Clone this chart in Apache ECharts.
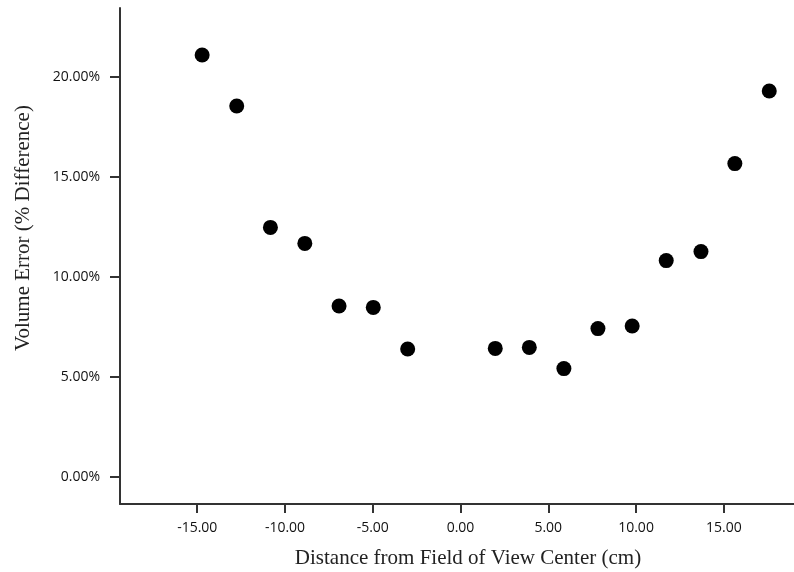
<!DOCTYPE html>
<html>
<head>
<meta charset="utf-8">
<script src="https://cdn.jsdelivr.net/npm/echarts@6/dist/echarts.min.js"></script>
<style>html,body{margin:0;padding:0;background:#fff;overflow:hidden}#c{width:794px;height:572px}</style>
</head>
<body>
<div id="c"></div>
<script>
var distance = [-14.72, -12.75, -10.83, -8.87, -6.92, -4.97, -3.01, 1.98, 3.92, 5.89, 7.83, 9.78, 11.72, 13.70, 15.63, 17.59];
var volumeError = [21.10, 18.55, 12.48, 11.68, 8.55, 8.48, 6.40, 6.43, 6.48, 5.42, 7.42, 7.55, 10.82, 11.27, 15.67, 19.30];
var xTicks = [-15, -10, -5, 0, 5, 10, 15];
var yTicks = [0, 5, 10, 15, 20];

var points = distance.map(function (d, i) { return [d, volumeError[i]]; });
var chart = echarts.init(document.getElementById('c'), null, {renderer: 'canvas', width: 794, height: 572});
var labelFont = {fontFamily: 'Open Sans', fontSize: 14, color: '#111'};
chart.setOption({
  animation: false,
  backgroundColor: '#fff',
  grid: {left: 120, top: 8, right: 0, bottom: 68, containLabel: false, outerBoundsMode: 'none'},
  xAxis: {
    type: 'value', min: -19.4, max: 19,
    name: 'Distance from Field of View Center (cm)',
    nameLocation: 'middle', nameGap: 44,
    nameTextStyle: {fontFamily: 'Liberation Serif', fontSize: 21, color: '#222', padding: [0, 0, 0, 22]},
    axisLine: {show: true, onZero: false, lineStyle: {color: '#333', width: 2}},
    axisTick: {show: true, inside: false, length: 9, lineStyle: {color: '#333', width: 2}, customValues: xTicks},
    axisLabel: Object.assign({margin: 17, customValues: xTicks, formatter: function (v) { return v.toFixed(2); }}, labelFont),
    splitLine: {show: false}
  },
  yAxis: {
    type: 'value', min: -1.35, max: 23.45,
    name: 'Volume Error (% Difference)',
    nameLocation: 'middle', nameGap: 86,
    nameTextStyle: {fontFamily: 'Liberation Serif', fontSize: 21, color: '#222', padding: [0, 0, 0, 56]},
    axisLine: {show: true, onZero: false, lineStyle: {color: '#333', width: 2}},
    axisTick: {show: true, inside: false, length: 10, lineStyle: {color: '#333', width: 2}, customValues: yTicks},
    axisLabel: Object.assign({margin: 20, customValues: yTicks, formatter: function (v) { return v.toFixed(2) + '%'; }}, labelFont),
    splitLine: {show: false}
  },
  series: [{
    type: 'scatter',
    data: points,
    symbol: 'circle',
    symbolSize: 15,
    itemStyle: {color: '#000', opacity: 1}
  }]
});
</script>
</body>
</html>
